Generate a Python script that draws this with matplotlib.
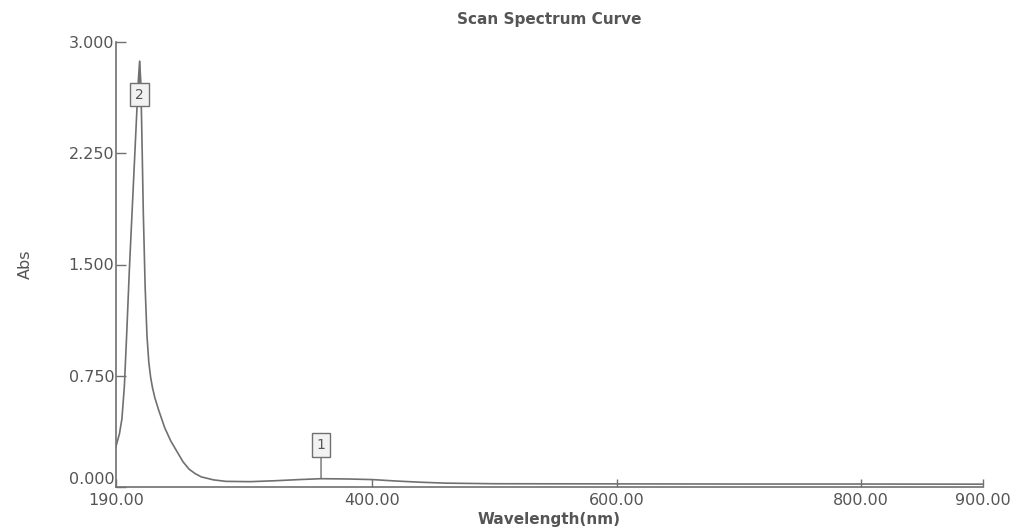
"""
UV-Vis scan spectrum (Abs vs. wavelength) with two peak markers.
"""

import matplotlib
matplotlib.use("Agg")
import matplotlib.pyplot as plt

OUT_PNG = "out.png"

# scan readings: wavelength (nm) / absorbance
WAVELENGTH = [190, 193, 195, 197, 199, 201, 203, 205, 207, 208.5, 209.5,
              210.5, 211.5, 212.5, 214, 215.5, 217, 218.5, 220, 222, 225,
              230, 235, 240, 245, 250, 255, 260, 270, 280, 300, 320, 340,
              358, 380, 400, 420, 440, 460, 500, 600, 700, 800, 900]
ABS = [0.27, 0.36, 0.46, 0.68, 1.05, 1.45, 1.80, 2.15, 2.50, 2.75, 2.87,
       2.72, 2.30, 1.85, 1.35, 1.02, 0.84, 0.74, 0.67, 0.60, 0.52, 0.40,
       0.31, 0.24, 0.17, 0.12, 0.09, 0.068, 0.048, 0.038, 0.036, 0.042,
       0.050, 0.056, 0.054, 0.050, 0.040, 0.032, 0.026, 0.022, 0.021,
       0.020, 0.020, 0.019]

# picked peaks
PEAK_LABELS = ["1", "2"]
PEAK_WL = [358, 209.5]
PEAK_OFFSET = [24, -24]   # label offset (points), up / down

X_TICKS = [190, 400, 600, 800, 900]
Y_TICKS = [0.0, 0.75, 1.5, 2.25, 3.0]

GRAY = "#707070"
TXT = "#555555"

fig = plt.figure(figsize=(10.16, 5.29), dpi=100)
ax = fig.add_axes([0.114, 0.0794, 0.8536, 0.8412])

ax.plot(WAVELENGTH, ABS, color=GRAY, linewidth=1.2, zorder=2)

for lab, wl, off in zip(PEAK_LABELS, PEAK_WL, PEAK_OFFSET):
    a = ABS[WAVELENGTH.index(wl)]
    ax.annotate(lab, xy=(wl, a), xytext=(0, off), textcoords="offset points",
                ha="center", va="center", fontsize=10, color=TXT,
                bbox=dict(boxstyle="square,pad=0.35", fc="#f2f2f2",
                          ec=GRAY, lw=1.0),
                arrowprops=dict(arrowstyle="-", color=GRAY, lw=1.0,
                                shrinkA=0, shrinkB=0),
                zorder=3)

ax.set_xticks(X_TICKS)
ax.set_xticklabels([f"{v:.2f}" for v in X_TICKS])
ax.set_yticks(Y_TICKS)
ax.set_yticklabels([f"{v:.3f}" for v in Y_TICKS])
# lift the 0.000 label clear of the 190.00 label
ax.yaxis.get_major_ticks()[0].label1.set_va("bottom")
ax.set_xlim(190, 900)
ax.set_ylim(0, 3.0)

for s in ("top", "right"):
    ax.spines[s].set_visible(False)
for s in ("left", "bottom"):
    ax.spines[s].set_color(GRAY)
    ax.spines[s].set_linewidth(1.2)

ax.tick_params(axis="both", direction="in", colors=GRAY, labelcolor=TXT,
               width=1.0)
ax.tick_params(axis="y", length=7, pad=1, labelsize=11.5)
ax.tick_params(axis="x", length=6, pad=4, labelsize=11.5)

ax.set_title("Scan Spectrum Curve", fontsize=11, fontweight="bold",
             color=TXT, pad=13)
ax.set_xlabel("Wavelength(nm)", fontsize=11, fontweight="bold", color=TXT,
              labelpad=3)
ax.set_ylabel("Abs", fontsize=11.5, color=TXT, labelpad=26)

fig.savefig(OUT_PNG, dpi=100)
